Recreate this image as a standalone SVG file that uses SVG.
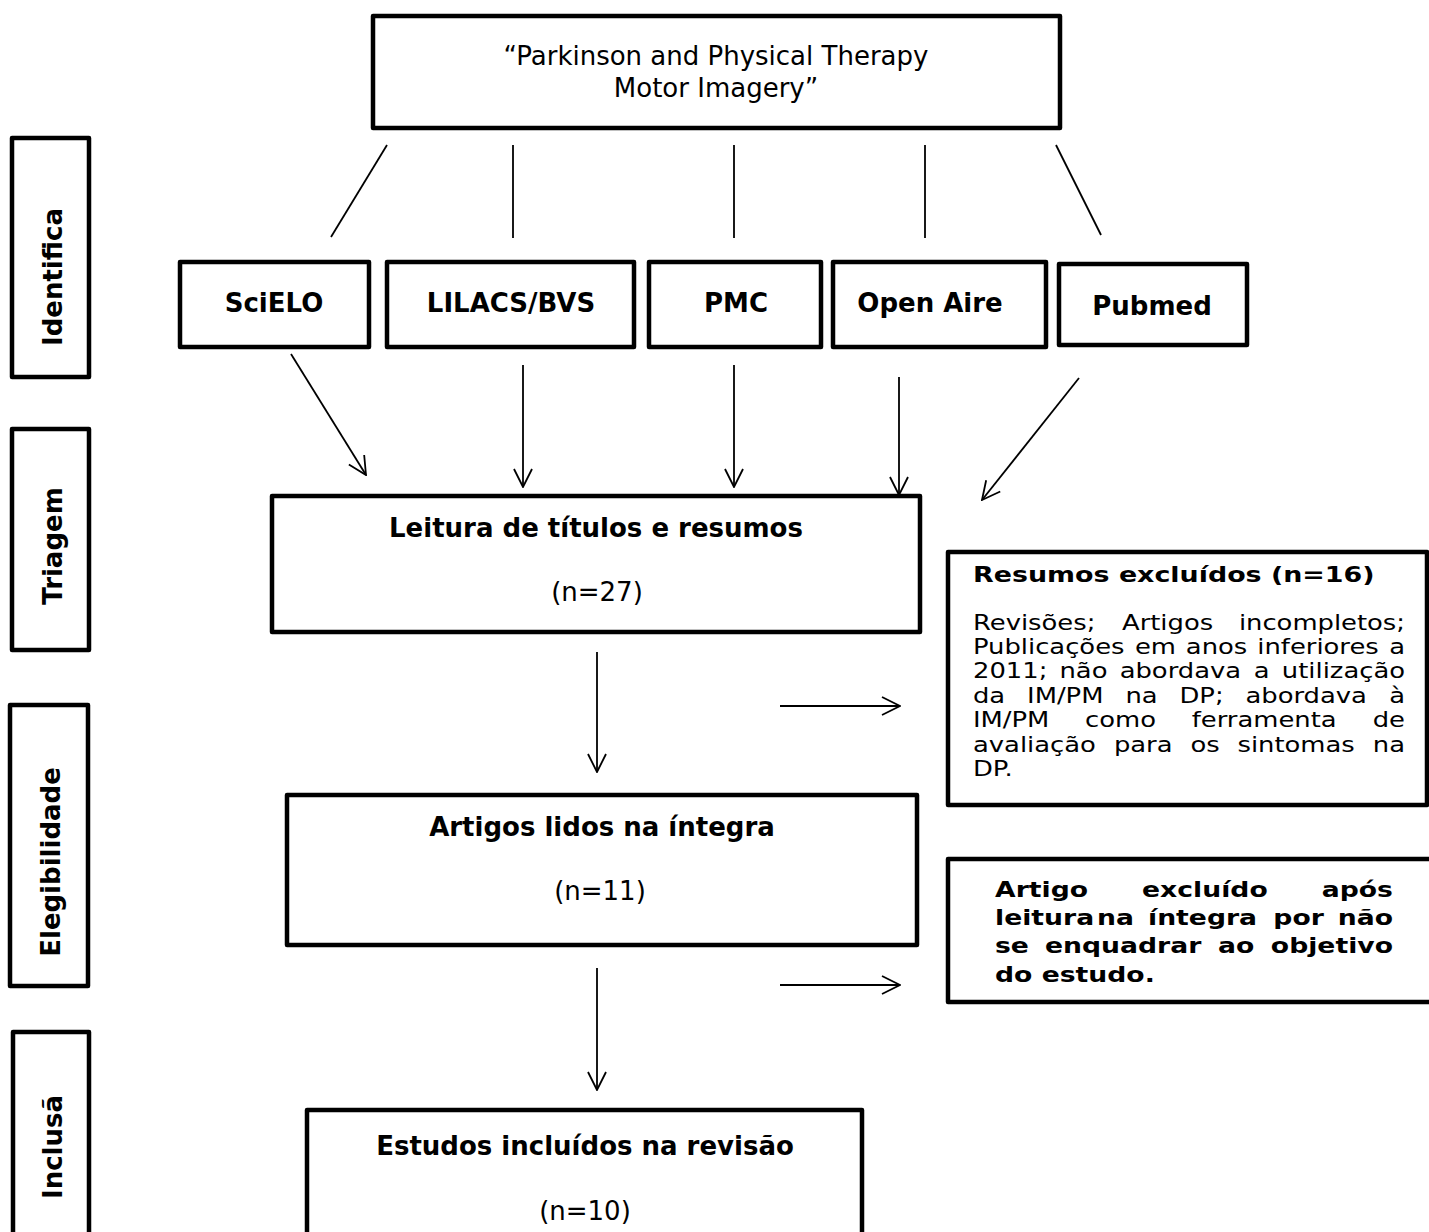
<svg xmlns="http://www.w3.org/2000/svg" width="1429" height="1232" viewBox="0 0 1429 1232">
<style>
.box{fill:#fff;stroke:#000;stroke-width:4.5;stroke-linejoin:round}
.ln{stroke:#000;stroke-width:1.8;fill:none}
.b{font-family:"DejaVu Sans",Verdana,sans-serif;font-weight:bold;font-size:26px;fill:#000}
.r{font-family:"DejaVu Sans",Verdana,sans-serif;font-size:26px;fill:#000}
.sb{font-family:"DejaVu Sans",Verdana,sans-serif;font-weight:bold;font-size:20.5px;fill:#000}
.hb{font-family:"DejaVu Sans",Verdana,sans-serif;font-weight:bold;font-size:21px;fill:#000}
.sr{font-family:"DejaVu Sans",Verdana,sans-serif;font-size:21px;fill:#000}
.c{text-anchor:middle}
.e{text-anchor:end}
</style>
<defs>
<marker id="ah" viewBox="0 0 20 20" refX="19" refY="10" markerWidth="20" markerHeight="20" markerUnits="userSpaceOnUse" orient="auto">
<path d="M1,1 L19,10 L1,19" fill="none" stroke="#000" stroke-width="1.8"/>
</marker>
</defs>
<rect width="1429" height="1232" fill="#fff"/>

<g id="stage-identifica"><rect class="box" x="12" y="138" width="77" height="239"/><text class="b c" transform="translate(62,277) rotate(-90)">Identifica</text></g>
<g id="stage-triagem"><rect class="box" x="12" y="429" width="77" height="221"/><text class="b c" transform="translate(62,546) rotate(-90)">Triagem</text></g>
<g id="stage-elegibilidade"><rect class="box" x="10" y="705" width="78" height="281"/><text class="b c" transform="translate(60,862) rotate(-90)">Elegibilidade</text></g>
<g id="stage-inclusao"><rect class="box" x="13" y="1032" width="76" height="215"/><text class="b c" transform="translate(62,1147) rotate(-90)">Inclusã</text></g>

<g id="query"><rect class="box" x="373" y="16" width="687" height="112"/><text class="r c" x="716" y="65">“Parkinson and Physical Therapy</text><text class="r c" x="716" y="97">Motor Imagery”</text></g>

<g id="scielo"><rect class="box" x="180" y="262" width="189" height="85"/><text class="b c" x="274" y="312">SciELO</text></g>
<g id="lilacs"><rect class="box" x="387" y="262" width="247" height="85"/><text class="b c" x="511" y="312">LILACS/BVS</text></g>
<g id="pmc"><rect class="box" x="649" y="262" width="172" height="85"/><text class="b c" x="736" y="312">PMC</text></g>
<g id="openaire"><rect class="box" x="833" y="262" width="213" height="85"/><text class="b c" x="930" y="312">Open Aire</text></g>
<g id="pubmed"><rect class="box" x="1059" y="264" width="188" height="81"/><text class="b c" x="1152" y="315">Pubmed</text></g>

<g id="leitura"><rect class="box" x="272" y="496" width="648" height="136"/><text class="b c" x="596" y="537">Leitura de títulos e resumos</text><text class="r c" x="597" y="601">(n=27)</text></g>
<g id="artigos"><rect class="box" x="287" y="795" width="630" height="150"/><text class="b c" x="602" y="836">Artigos lidos na íntegra</text><text class="r c" x="600" y="900">(n=11)</text></g>
<g id="estudos"><rect class="box" x="307" y="1110" width="555" height="140"/><text class="b c" x="585" y="1155">Estudos incluídos na revisão</text><text class="r c" x="585" y="1220">(n=10)</text></g>

<g id="resumos-excluidos"><rect class="box" x="948" y="552" width="479" height="253"/>
<text class="hb" transform="scale(1.28,1)" x="760.2" y="582">Resumos excluídos (n=16)</text>
<g transform="scale(1.23,1)" class="sr">
<text x="791.06" y="630">Revisões;</text><text x="912.2" y="630">Artigos</text><text class="e" x="1142.28" y="630">incompletos;</text>
<text x="791.06" y="654">Publicações</text><text x="922.7" y="654">em</text><text x="964.1" y="654">anos</text><text x="1022.2" y="654">inferiores</text><text class="e" x="1142.28" y="654">a</text>
<text x="791.06" y="678">2011;</text><text x="861.4" y="678">não</text><text x="910.3" y="678">abordava</text><text x="1019.3" y="678">a</text><text class="e" x="1142.28" y="678">utilização</text>
<text x="791.06" y="703">da</text><text x="835" y="703">IM/PM</text><text x="915" y="703">na</text><text x="958.9" y="703">DP;</text><text x="1012.6" y="703">abordava</text><text class="e" x="1142.28" y="703">à</text>
<text x="791.06" y="727">IM/PM</text><text x="882.2" y="727">como</text><text x="968.9" y="727">ferramenta</text><text class="e" x="1142.28" y="727">de</text>
<text x="791.06" y="752">avaliação</text><text x="905.6" y="752">para</text><text x="967.8" y="752">os</text><text x="1006.1" y="752">sintomas</text><text class="e" x="1142.28" y="752">na</text>
<text x="791.06" y="776">DP.</text>
</g></g>

<g id="artigo-excluido"><rect class="box" x="948" y="859" width="490" height="143"/>
<g transform="scale(1.3,1)" class="sb">
<text x="765.4" y="897">Artigo</text><text x="878.5" y="897">excluído</text><text class="e" x="1071.5" y="897">após</text>
<text x="765.4" y="925">leitura</text><text x="843.8" y="925">na</text><text x="883.1" y="925">íntegra</text><text x="979.5" y="925">por</text><text class="e" x="1071.5" y="925">não</text>
<text x="765.4" y="953">se</text><text x="803.8" y="953">enquadrar</text><text x="936.9" y="953">ao</text><text class="e" x="1071.5" y="953">objetivo</text>
<text x="765.4" y="982">do estudo.</text>
</g></g>

<g id="connectors">
<line class="ln" x1="387" y1="145" x2="331" y2="237"/>
<line class="ln" x1="513" y1="145" x2="513" y2="238"/>
<line class="ln" x1="734" y1="145" x2="734" y2="238"/>
<line class="ln" x1="925" y1="145" x2="925" y2="238"/>
<line class="ln" x1="1056" y1="145" x2="1101" y2="235"/>
<line class="ln" x1="291" y1="354" x2="366" y2="475" marker-end="url(#ah)"/>
<line class="ln" x1="523" y1="365" x2="523" y2="487" marker-end="url(#ah)"/>
<line class="ln" x1="734" y1="365" x2="734" y2="487" marker-end="url(#ah)"/>
<line class="ln" x1="899" y1="377" x2="899" y2="495" marker-end="url(#ah)"/>
<line class="ln" x1="1079" y1="378" x2="982" y2="500" marker-end="url(#ah)"/>
<line class="ln" x1="597" y1="652" x2="597" y2="772" marker-end="url(#ah)"/>
<line class="ln" x1="597" y1="968" x2="597" y2="1090" marker-end="url(#ah)"/>
<line class="ln" x1="780" y1="706" x2="900" y2="706" marker-end="url(#ah)"/>
<line class="ln" x1="780" y1="985" x2="900" y2="985" marker-end="url(#ah)"/>
</g>
</svg>
